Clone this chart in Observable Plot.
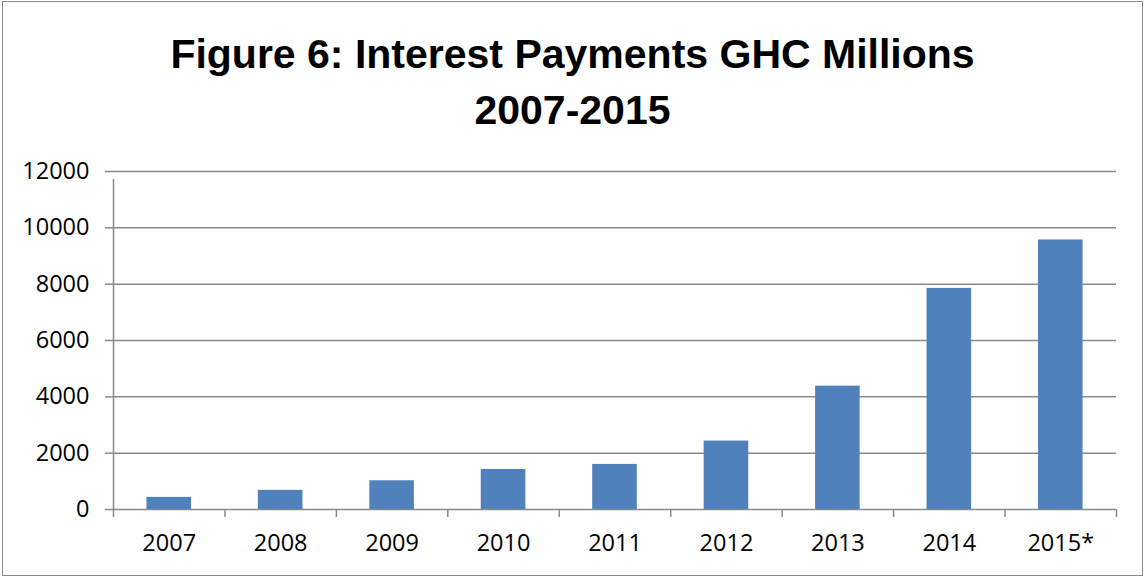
<!DOCTYPE html>
<html>
<head>
<meta charset="utf-8">
<script src="https://cdn.jsdelivr.net/npm/d3@7"></script>
<script src="https://cdn.jsdelivr.net/npm/@observablehq/plot@0.6"></script>
<style>
  html, body { margin: 0; padding: 0; background: #fff; }
  #page { position: relative; width: 1145px; height: 578px; overflow: hidden; }
  #frame { position: absolute; left: 2px; top: 1px; width: 1139px; height: 573px; border: 1.5px solid #8a8a8a; pointer-events: none; }
  #title { height: 150px; box-sizing: border-box; padding-top: 26px; text-align: center;
           font-family: "Liberation Sans", Arial, sans-serif; font-weight: bold;
           font-size: 41px; line-height: 56px; color: #000; }
  #chart svg { display: block; }
</style>
</head>
<body>
<div id="page">
  <div id="title">Figure 6: Interest Payments GHC Millions<br>2007-2015</div>
  <div id="chart"></div>
  <div id="frame"></div>
</div>
<script>
const years = ["2007", "2008", "2009", "2010", "2011", "2012", "2013", "2014", "2015*"];
const payments = [430, 680, 1020, 1420, 1600, 2430, 4380, 7850, 9570];
const yTicks = [0, 2000, 4000, 6000, 8000, 10000, 12000];

const data = years.map((year, i) => ({year, value: payments[i]}));

const width = 1145, height = 428;
const mL = 113, mR = 29, mT = 21, mB = 69;
const step = (width - mL - mR) / years.length;
const gridColor = "#8a8a8a";

const chart = Plot.plot({
  width, height,
  marginLeft: mL, marginRight: mR, marginTop: mT, marginBottom: mB,
  style: {fontFamily: "'Open Sans', sans-serif", fontSize: "23.5px", color: "#000", background: "transparent"},
  x: {domain: years, paddingInner: 0.6, paddingOuter: 0.3, round: false, label: null},
  y: {domain: [0, 12000], label: null},
  marks: [
    Plot.ruleY(yTicks, {stroke: gridColor, strokeWidth: 1.5}),
    Plot.barY(data, {x: "year", y: "value", fill: "#4f81bd"}),
    // y axis line (extends to first category tick)
    Plot.ruleX([years[0]], {dx: -step / 2, y1: 0, y2: 12000, insetBottom: -8, stroke: gridColor, strokeWidth: 1.5}),
    // category boundary ticks
    Plot.ruleX(years, {x: d => d, dx: -step / 2, y1: 0, y2: 0, insetBottom: -8, stroke: gridColor, strokeWidth: 1.5}),
    Plot.ruleX([years[years.length - 1]], {dx: step / 2, y1: 0, y2: 0, insetBottom: -8, stroke: gridColor, strokeWidth: 1.5}),
    Plot.axisY({ticks: yTicks, tickSize: 8, tickPadding: 16, stroke: gridColor, strokeWidth: 1.5, tickFormat: d => String(d), label: null, fill: "#000"}),
    Plot.axisX({tickSize: 0, tickPadding: 25, label: null, fill: "#000"})
  ]
});
document.getElementById("chart").appendChild(chart);
</script>
</body>
</html>
